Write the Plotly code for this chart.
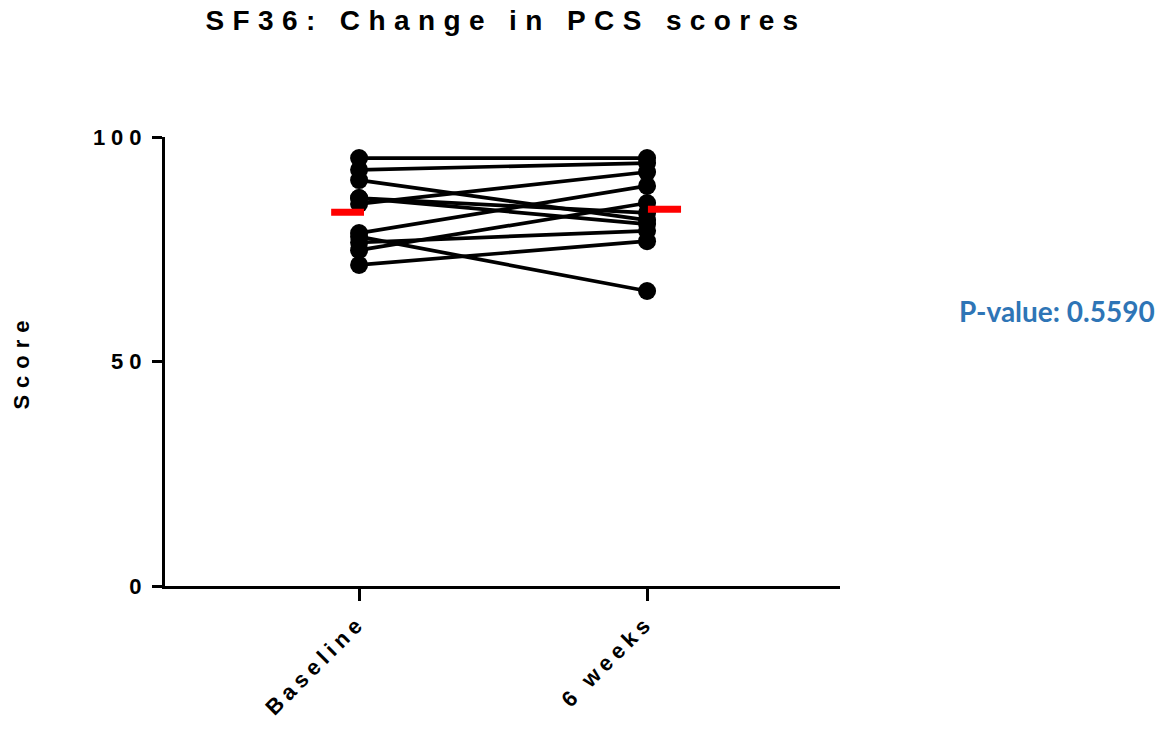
import plotly.graph_objects as go

# Paired SF36 physical component scores (one entry per participant)
timepoints = ["Baseline", "6 weeks"]
baseline = [95.3, 92.7, 90.4, 85.1, 86.4, 86.4, 78.6, 74.8, 77.8, 76.5, 71.5]
six_weeks = [95.3, 94.2, 81.5, 92.2, 83.1, 80.6, 89.1, 85.3, 65.7, 79.1, 76.8]
y_ticks = [0, 50, 100]
p_value = 0.5590

FONT = "Liberation Sans, Arial, sans-serif"
positions = list(range(len(timepoints)))

fig = go.Figure()

# Before/after lines for each participant
for b, w in zip(baseline, six_weeks):
    fig.add_trace(go.Scatter(
        x=positions, y=[b, w], mode="lines+markers",
        line=dict(color="black", width=3.7),
        marker=dict(color="black", size=18, line=dict(width=0)),
        showlegend=False, hoverinfo="y", cliponaxis=False,
    ))

# Group means shown as short red bars beside each column
means = [sum(baseline) / len(baseline), sum(six_weeks) / len(six_weeks)]
bar_spans = [(-0.097, 0.017), (0.003, 0.118)]
for pos, m, (lo, hi) in zip(positions, means, bar_spans):
    fig.add_trace(go.Scatter(
        x=[pos + lo, pos + hi], y=[m, m], mode="lines",
        line=dict(color="#FF0000", width=7),
        showlegend=False, hoverinfo="skip", cliponaxis=False,
    ))

fig.add_annotation(
    text=f"<b>P-value: {p_value:.4f}</b>",
    xref="paper", yref="paper", x=1.4696, y=0.6125,
    xanchor="right", yanchor="middle", showarrow=False,
    font=dict(family="Lato, Carlito, sans-serif", size=28, color="#2E75B6"),
)

fig.update_layout(
    width=1160, height=731,
    margin=dict(l=165, r=320, t=137, b=145),
    paper_bgcolor="white", plot_bgcolor="white",
    title=dict(
        text="<b>SF36: Change in PCS scores</b>",
        x=506 / 1160, xanchor="center", y=0.972, yanchor="middle",
        font=dict(family=FONT, size=28, color="black"),
    ),
    xaxis=dict(
        range=[-0.674, 1.670], tickvals=positions, ticktext=timepoints,
        tickangle=-45, showgrid=False, zeroline=False,
        showline=True, linecolor="black", linewidth=3,
        ticks="outside", ticklen=12, tickwidth=3, tickcolor="black",
        tickfont=dict(family=FONT, size=22, color="black", weight="bold"),
    ),
    yaxis=dict(
        range=[0, 100], tickvals=y_ticks, showgrid=False, zeroline=False,
        showline=True, linecolor="black", linewidth=3,
        ticks="outside", ticklen=10, tickwidth=3, tickcolor="black",
        tickfont=dict(family=FONT, size=22, color="black", weight="bold"),
        title=dict(text="<b>Score</b>", standoff=76,
                   font=dict(family=FONT, size=22, color="black")),
    ),
)

# Widen the letter spacing of the bold chart text
spacing_js = """
var gd = document.getElementById('{plot_id}');
function spread(sel, px) {
  gd.querySelectorAll(sel).forEach(function (el) { el.style.letterSpacing = px; });
}
spread('.gtitle', '8.4px');
spread('.ytick text', '6px');
spread('.xtick text', '5px');
spread('.ytitle', '7px');
"""

fig.write_html("out.html", post_script=spacing_js)
